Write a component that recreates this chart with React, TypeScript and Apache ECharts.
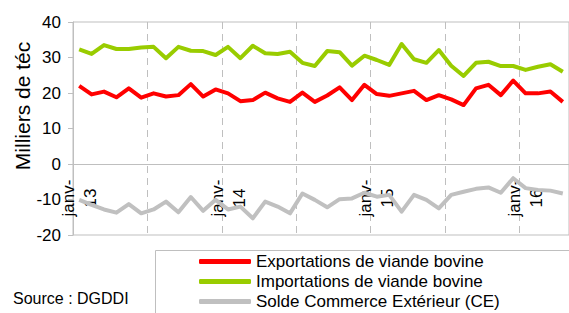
import React, { useEffect, useRef } from "react";
import * as echarts from "echarts";

const months = ["janv", "févr", "mars", "avr", "mai", "juin", "juil", "août", "sept", "oct", "nov", "déc"];
const years = ["13", "14", "15", "16"];
const categories: string[] = [];
for (const y of years) for (const m of months) categories.push(`${m}-${y}`);
const cats = categories.slice(0, 40);

const exportsData = [
  22.0, 19.6, 20.4, 18.8, 21.3, 18.7, 19.9, 19.0, 19.4, 22.5,
  19.0, 21.0, 19.9, 17.7, 18.0, 20.1, 18.5, 17.5, 20.1, 17.5,
  19.3, 21.6, 18.0, 22.3, 19.7, 19.2, 19.9, 20.6, 18.0, 19.4,
  18.2, 16.6, 21.3, 22.3, 19.4, 23.5, 19.9, 19.9, 20.4, 17.5,
];
const importsData = [
  32.3, 31.0, 33.5, 32.4, 32.4, 32.8, 33.0, 29.8, 33.0, 31.9,
  31.8, 30.7, 33.0, 29.8, 33.3, 31.2, 31.0, 31.6, 28.5, 27.6,
  31.8, 31.5, 27.7, 30.5, 29.3, 27.9, 33.8, 29.5, 28.5, 32.1,
  27.7, 24.8, 28.5, 28.8, 27.6, 27.6, 26.5, 27.4, 28.1, 26.0,
];
const soldeData = [
  -10.1, -11.5, -12.8, -13.7, -11.3, -13.9, -12.8, -10.6, -13.6, -9.3,
  -13.2, -10.1, -12.8, -12.0, -15.3, -10.6, -12.0, -13.9, -8.3, -10.1,
  -12.2, -9.9, -9.7, -8.1, -9.2, -8.7, -13.4, -8.7, -10.1, -12.5,
  -8.7, -7.8, -7.0, -6.6, -8.1, -4.0, -6.8, -7.3, -7.5, -8.3,
];
const seriesNames = [
  "Exportations de viande bovine",
  "Importations de viande bovine",
  "Solde Commerce Extérieur (CE)",
];
const colors = ["#ff0000", "#99cc00", "#c0c0c0"];
const yTitle = "Milliers de téc";
const sourceText = "Source : DGDDI";

const FONT = "'Liberation Sans', Arial, sans-serif";

export default function App() {
  const ref = useRef<HTMLDivElement>(null);
  useEffect(() => {
    document.body.style.margin = "0";
    if (!ref.current) return;
    const chart = echarts.init(ref.current, null, { renderer: "svg" });
    const datas = [exportsData, importsData, soldeData];
    chart.setOption({
      animation: false,
      textStyle: { fontFamily: FONT },
      grid: {
        left: 73,
        top: 22,
        right: -4,
        bottom: 78,
        show: true,
        borderColor: "#bfbfbf",
        borderWidth: 1,
      },
      xAxis: [
        {
          type: "category",
          data: cats,
          boundaryGap: true,
          axisLine: { show: false },
          axisTick: { show: false },
          axisLabel: { show: false },
          splitLine: {
            show: true,
            interval: 5,
            lineStyle: { color: "#bfbfbf", width: 1, type: [7, 5] },
          },
        },
        {
          type: "category",
          data: cats,
          position: "bottom",
          boundaryGap: true,
          offset: -71,
          axisLine: { show: true, onZero: false, lineStyle: { color: "#bfbfbf", width: 1 } },
          axisTick: { show: false },
          splitLine: { show: false },
          axisLabel: {
            interval: 11,
            rotate: 90,
            align: "center",
            verticalAlign: "middle",
            margin: 34,
            fontSize: 17,
            lineHeight: 22,
            color: "#000",
            fontFamily: FONT,
            formatter: (v: string) => v.replace("-", "-\n"),
          },
        },
      ],
      yAxis: {
        type: "value",
        min: -20,
        max: 40,
        interval: 10,
        axisLine: { show: true, lineStyle: { color: "#bfbfbf", width: 1 } },
        axisTick: { show: true, length: 5, lineStyle: { color: "#bfbfbf" } },
        splitLine: { show: false },
        axisLabel: { fontSize: 17, margin: 12, color: "#000", fontFamily: FONT },
      },
      legend: {
        orient: "vertical",
        left: 199,
        top: 253,
        padding: 0,
        itemGap: 3,
        itemWidth: 52,
        itemHeight: 5,
        icon: "roundRect",
        textStyle: { fontSize: 17, lineHeight: 17, color: "#000", fontFamily: FONT },
        data: seriesNames,
      },
      graphic: [
        {
          type: "rect",
          shape: { x: 155.5, y: 250.5, width: 500, height: 100 },
          style: { fill: "none", stroke: "#bfbfbf", lineWidth: 1 },
          z: 0,
        },
        {
          type: "text",
          x: 22,
          y: 106,
          rotation: Math.PI / 2,
          style: {
            text: yTitle,
            fontSize: 21,
            fontFamily: FONT,
            fill: "#000",
            textAlign: "center",
            textVerticalAlign: "middle",
          },
        },
        {
          type: "text",
          left: 13,
          top: 290,
          style: { text: sourceText, fontSize: 16, fontFamily: FONT, fill: "#000" },
        },
      ],
      series: seriesNames.map((name, i) => ({
        name,
        type: "line",
        xAxisIndex: 0,
        data: datas[i],
        symbol: "none",
        color: colors[i],
        lineStyle: { color: colors[i], width: 4, join: "round" },
        z: 3 - i,
      })),
    });
    return () => chart.dispose();
  }, []);
  return <div ref={ref} style={{ width: 569, height: 313 }} />;
}
